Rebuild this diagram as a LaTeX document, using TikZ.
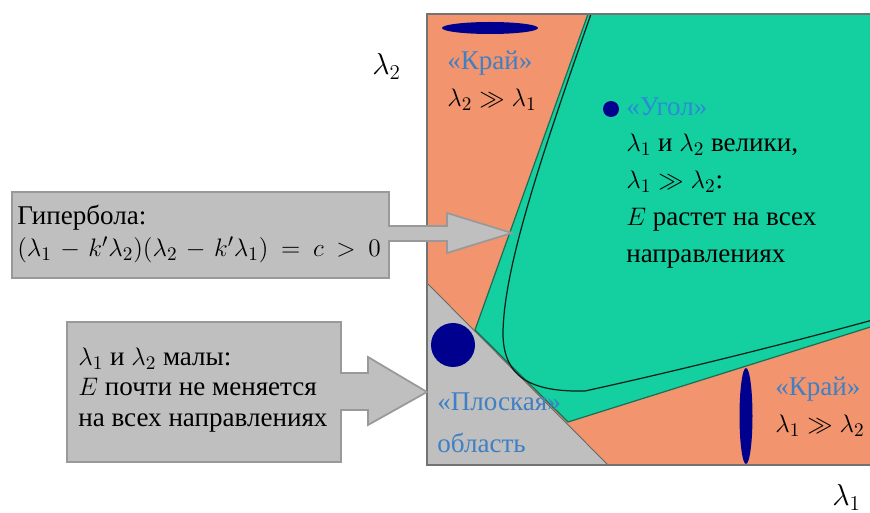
\documentclass[tikz,border=0pt]{standalone}
\usepackage{fontspec}
\setmainfont{Liberation Serif}
\usetikzlibrary{calc}
\definecolor{cOr}{HTML}{F2956E}
\definecolor{cGr}{HTML}{14CFA0}
\definecolor{cGy}{HTML}{BFBFBF}
\definecolor{cNv}{HTML}{00008F}
\definecolor{cBl}{HTML}{3F7FC4}
\definecolor{cBu}{HTML}{2A8CD6}
\definecolor{cLn}{HTML}{1E6E55}
\tikzset{
  lbl/.style={anchor=north west,inner sep=0pt,align=left,
              font=\fontsize{15.4}{18.2}\selectfont},
  spread/.style={lbl,font=\fontsize{15.4}{21}\selectfont},
  loose/.style={lbl,font=\fontsize{15.4}{24}\selectfont},
  axis/.style={anchor=base west,inner sep=0pt,font=\fontsize{17.5}{20}\selectfont},
  callout/.style={fill=cGy,draw=black!40,line width=1pt,line join=miter},
  frame/.style={draw=black!55,line width=1.1pt},
  flatzone/.style={fill=cGy,draw=black!60,line width=0.5pt},
  cornzone/.style={fill=cGr,draw=cLn,line width=0.7pt},
  hyper/.style={draw=black!70!cLn,line width=0.7pt},
  blob/.style={fill=cNv},
}

\begin{document}
\begin{tikzpicture}[x=0.02cm,y=-0.02cm]
  \useasboundingbox (0,0) rectangle (870,513);
  \clip (0,0) rectangle (870,513);
  % plane of eigenvalues: edge / flat / corner zones
  \fill[cOr] (427,14) rectangle (880,465);
  \filldraw[flatzone] (427,283) -- (608,465) -- (427,465) -- cycle;
  \filldraw[cornzone] (588,14) -- (880,14) -- (880,324) -- (568,422) -- (475,330) -- cycle;
  \draw[hyper] (591,14) .. controls (540,160) and (503,270) .. (503,335)
    .. controls (504,380) and (535,392) .. (585,391)
    .. controls (690,368) and (800,340) .. (880,318);
  \draw[frame] (427,14) rectangle (880,465);
  % shapes of the windows
  \fill[blob] (490,28) ellipse [x radius=48,y radius=6];
  \fill[blob] (746,416) ellipse [x radius=6.5,y radius=48];
  \fill[blob] (611,109) circle [radius=8];
  \fill[blob] (453,345) circle [radius=22];
  % callouts
  \draw[callout] (12,192) -- (389,192) -- (389,226) -- (447,226) -- (447,213)
    -- (512,233) -- (447,253) -- (447,241) -- (389,241) -- (389,278) -- (12,278) -- cycle;
  \draw[callout] (67,322) -- (341,322) -- (341,373) -- (368,373) -- (368,357)
    -- (427,392) -- (368,425) -- (368,410) -- (341,410) -- (341,462) -- (67,462) -- cycle;
  \node[lbl] (hyp) at (17,205)
    {Гипербола:\\\medmuskip=6mu\thickmuskip=9mu
     $(\lambda_1-k^{\prime}\lambda_2)(\lambda_2-k^{\prime}\lambda_1)=c>0$};
  \node[lbl,font=\fontsize{15.4}{17.1}\selectfont] (flat) at (78,348)
    {$\lambda_1$ и $\lambda_2$ малы:\\$E$ почти не меняется\\на всех направлениях};
  % zone texts
  \node[spread] (corn) at (626,97)
    {\textcolor{cBu}{«Угол»}\\$\lambda_1$ и $\lambda_2$ велики,\\$\lambda_1\gg\lambda_2$:\\
     $E$ растет на всех\\направлениях};
  \node[spread,text=cBl] (edgeA) at (447,51) {«Край»\\\textcolor{black}{$\lambda_2\gg\lambda_1$}};
  \node[spread,text=cBl] (edgeB) at (775,377) {«Край»\\\textcolor{black}{$\lambda_1\gg\lambda_2$}};
  \node[loose,text=cBl] (flatlbl) at (437,392) {«Плоская»\\область};
  % axes
  \node[axis] (ax2) at (372,75) {$\lambda_2$};
  \node[axis] (ax1) at (832,506) {$\lambda_1$};
\end{tikzpicture}
\end{document}
